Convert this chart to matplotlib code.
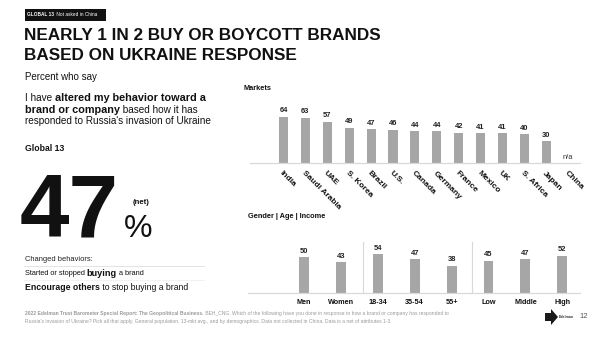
import matplotlib
matplotlib.use("Agg")
import matplotlib.pyplot as plt
from matplotlib.patches import Rectangle, Polygon
from matplotlib.lines import Line2D

plt.rcParams["font.family"] = ["Liberation Sans", "DejaVu Sans"]

# ---- data ----
markets = ["India", "Saudi Arabia", "UAE", "S. Korea", "Brazil", "U.S.", "Canada",
           "Germany", "France", "Mexico", "UK", "S. Africa", "Japan", "China"]
market_values = [64, 63, 57, 49, 47, 46, 44, 44, 42, 41, 41, 40, 30, None]

demo_groups = ["Men", "Women", "18-34", "35-54", "55+", "Low", "Middle", "High"]
demo_values = [50, 43, 54, 47, 38, 45, 47, 52]

global_net = 47

BAR = "#a6a6a6"
RULE = "#d9d9d9"
W, H = 600, 337

fig = plt.figure(figsize=(6, 3.37), dpi=100)
fig.patch.set_facecolor("white")
renderer = fig.canvas.get_renderer()


def fx(px):
    return px / W


def fy(py):
    return 1 - py / H


def runs(x, y, parts, va="center", color="#111111"):
    """Draw a line made of (text, size, weight) runs, one after another."""
    cur = x
    for txt, size, weight in parts:
        t = fig.text(fx(cur), fy(y), txt, fontsize=size, fontweight=weight,
                     ha="left", va=va, color=color)
        bb = t.get_window_extent(renderer)
        cur += bb.width
    return cur


# ---- header ----
fig.patches.append(Rectangle((fx(24.5), fy(20.5)), fx(81), 11.5 / H,
                             transform=fig.transFigure, facecolor="#111111",
                             edgecolor="none"))
runs(27, 15, [("GLOBAL 13 ", 3.4, "bold"), (" Not asked in China", 3.4, "normal")],
     color="white")

fig.text(fx(24), fy(36), "NEARLY 1 IN 2 BUY OR BOYCOTT BRANDS", fontsize=12.3,
         fontweight="bold", ha="left", va="center", color="#111111")
fig.text(fx(24), fy(56), "BASED ON UKRAINE RESPONSE", fontsize=12.3,
         fontweight="bold", ha="left", va="center", color="#111111")
fig.text(fx(25), fy(77), "Percent who say", fontsize=7, ha="left", va="center",
         color="#111111")

runs(25, 98, [("I have ", 7.2, "normal"), ("altered my behavior toward a", 7.8, "bold")])
runs(25, 109.5, [("brand or company", 7.8, "bold"), (" based how it has", 7.2, "normal")])
runs(25, 121, [("responded to Russia's invasion of Ukraine", 7.2, "normal")])

fig.text(fx(25), fy(148), "Global 13", fontsize=6.2, fontweight="bold",
         ha="left", va="center", color="#111111")

fig.text(fx(20), fy(236.5), f"{global_net}", fontsize=64, fontweight="bold",
         ha="left", va="baseline", color="#111111")
fig.text(fx(133), fy(203), "(net)", fontsize=5.6, fontweight="bold",
         ha="left", va="center", color="#111111")
fig.text(fx(124), fy(237), "%", fontsize=23, ha="left", va="baseline",
         color="#111111")

fig.text(fx(25), fy(259.5), "Changed behaviors:", fontsize=5.4, ha="left",
         va="center", color="#222222")
fig.lines.append(Line2D([fx(24), fx(204)], [fy(266), fy(266)],
                        transform=fig.transFigure, color="#e3e3e3", lw=0.7))
runs(25, 273.5, [("Started or stopped ", 5.35, "normal"), ("buying", 6.6, "bold"),
                 (" a brand", 5.35, "normal")])
fig.lines.append(Line2D([fx(24), fx(204)], [fy(279.5), fy(279.5)],
                        transform=fig.transFigure, color="#f0f0f0", lw=0.6))
runs(25, 287, [("Encourage others", 6.35, "bold"), (" to stop buying a brand", 6.2, "normal")])

# ---- markets chart ----
m_left, m_right, m_base, m_top = 250, 580, 163, 100
step_m = 21.9
c0_m = 283.5
axm = fig.add_axes([fx(m_left), fy(m_base), fx(m_right - m_left), (m_base - m_top) / H])
axm.set_xlim((m_left - c0_m) / step_m, (m_right - c0_m) / step_m)
axm.set_ylim(0, (m_base - m_top) / 0.72)
xs = list(range(len(markets)))
for i, v in zip(xs, market_values):
    if v is None:
        axm.text(i, 8, "n/a", fontsize=5.4, ha="center", va="center", color="#333333")
        continue
    axm.bar(i, v, width=0.42, color=BAR, zorder=2)
    axm.text(i, v + 3.5, f"{v}", fontsize=5.4, fontweight="bold", ha="center",
             va="bottom", color="#222222")
axm.set_xticks(xs)
axm.set_xticklabels(markets, rotation=-45, ha="left", va="top",
                    rotation_mode="anchor", fontsize=6.0, fontweight="bold",
                    color="#111111")
axm.tick_params(axis="x", length=0, pad=5)
axm.set_yticks([])
for s in ["top", "left", "right"]:
    axm.spines[s].set_visible(False)
axm.spines["bottom"].set_color(RULE)
axm.spines["bottom"].set_linewidth(0.9)
axm.patch.set_alpha(0)

fig.text(fx(243), fy(88), "Markets", fontsize=5.3, fontweight="bold",
         ha="left", va="center", color="#111111")

# ---- demographics chart ----
d_left, d_right, d_base, d_top = 248, 580, 292.7, 238
step_d = 36.9
c0_d = 304
axd = fig.add_axes([fx(d_left), fy(d_base), fx(d_right - d_left), (d_base - d_top) / H])
axd.set_xlim((d_left - c0_d) / step_d, (d_right - c0_d) / step_d)
ymax_d = (d_base - d_top) / 0.71
axd.set_ylim(0, ymax_d)
xd = list(range(len(demo_groups)))
axd.bar(xd, demo_values, width=0.27, color=BAR, zorder=2)
for i, v in zip(xd, demo_values):
    axd.text(i, v + 3.5, f"{v}", fontsize=5.4, fontweight="bold", ha="center",
             va="bottom", color="#222222")
for sep in (1.6, 4.55):
    axd.axvline(sep, ymin=0, ymax=51 / 0.71 / ymax_d, color=RULE, lw=0.8)
axd.set_xticks(xd)
axd.set_xticklabels(demo_groups, fontsize=5.2, fontweight="bold", color="#111111")
axd.tick_params(axis="x", length=0, pad=4.5)
axd.set_yticks([])
for s in ["top", "left", "right"]:
    axd.spines[s].set_visible(False)
axd.spines["bottom"].set_color(RULE)
axd.spines["bottom"].set_linewidth(0.9)
axd.patch.set_alpha(0)

fig.text(fx(248), fy(217), "Gender | Age | Income", fontsize=5.3, fontweight="bold",
         ha="left", va="center", color="#111111")

# ---- footer ----
runs(25, 313, [("2022 Edelman Trust Barometer Special Report: The Geopolitical Business.", 3.6, "bold"),
               (" BEH_CNG. Which of the following have you done in response to how a brand or company has responded to", 3.6, "normal")],
     color="#9a9a9a")
runs(25, 321.5, [("Russia's invasion of Ukraine? Pick all that apply. General population, 13-mkt avg., and by demographics. Data not collected in China. Data is a net of attributes 1-3.", 3.6, "normal")],
     color="#9a9a9a")

# brand mark
logo = [(545, 313), (551, 313), (551, 309), (558, 317), (551, 325), (551, 321), (545, 321)]
fig.patches.append(Polygon([(fx(a), fy(b)) for a, b in logo], closed=True,
                           transform=fig.transFigure, facecolor="#1a1a1a",
                           edgecolor="none"))
fig.text(fx(559), fy(317), "Edelman", fontsize=2.6, fontweight="bold",
         ha="left", va="center", color="#333333")
fig.text(fx(579), fy(317), "12", fontsize=5.5, ha="left", va="center",
         color="#555555")

fig.savefig("out.png", dpi=100, facecolor="white")
